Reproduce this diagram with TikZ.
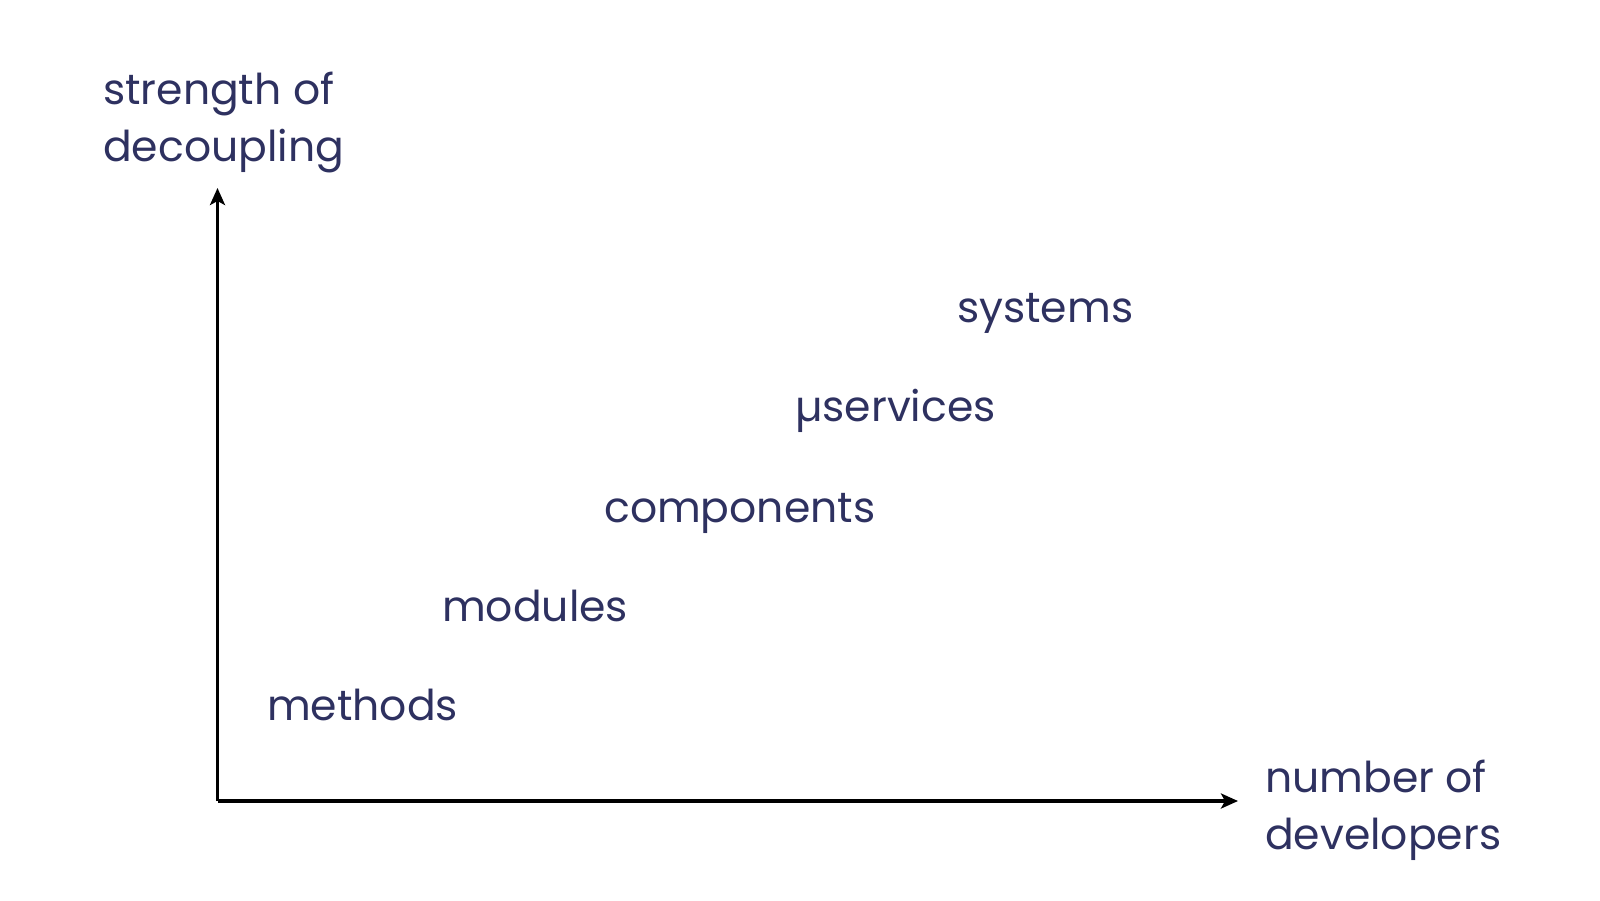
\documentclass[tikz,border=0pt]{standalone}
\usepackage{fontspec}
\setmainfont{Poppins}
\usetikzlibrary{arrows.meta}
\definecolor{ink}{HTML}{2E3160}
\tikzset{
  lbl/.style={anchor=base west, inner sep=0pt, text=ink, font=\fontsize{42.5}{57}\selectfont},
  axis/.style={line width=3.5pt, -{Stealth[length=17pt,width=15pt,inset=4pt]}}
}
\begin{document}
\begin{tikzpicture}[x=1pt,y=-1pt]
\useasboundingbox (0,0) rectangle (1600,900);
\coordinate (o) at (217.5,801);
\coordinate (ytop) at (217.5,188);
\coordinate (xend) at (1238,801);
\draw[axis] (o) -- (ytop);
\draw[axis] (o) -- (xend);
\node[lbl] (yl1) at (103,104) {strength of};
\node[lbl] (yl2) at (103,161) {decoupling};
\node[lbl] (xl1) at (1265,792) {number of};
\node[lbl] (xl2) at (1265,849) {developers};
\node[lbl] (sys) at (957,322) {systems};
\node[lbl] (mus) at (795,421) {µservices};
\node[lbl] (comp) at (604,522) {components};
\node[lbl] (mod) at (442,621) {modules};
\node[lbl] (meth) at (267,720) {methods};
\end{tikzpicture}
\end{document}
